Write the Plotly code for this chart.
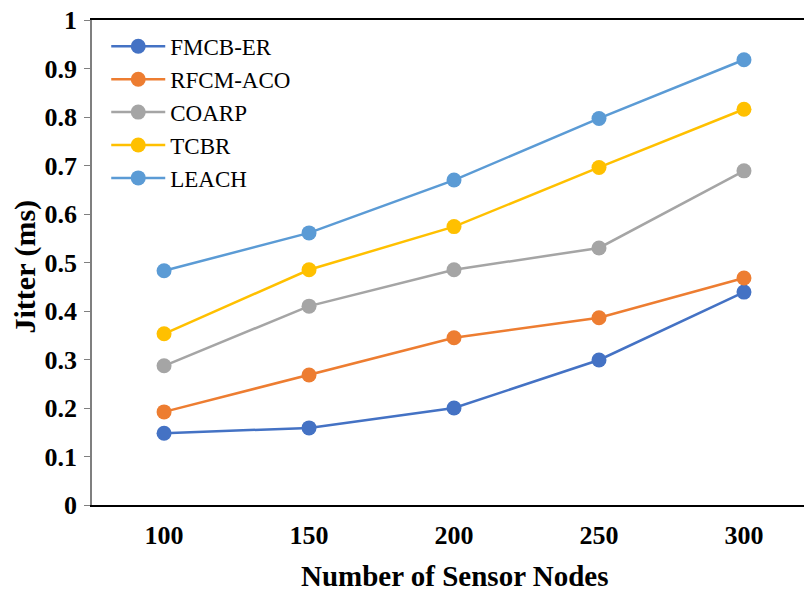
import plotly.graph_objects as go

nodes = ["100", "150", "200", "250", "300"]
fmcb_er = [0.148, 0.159, 0.200, 0.299, 0.439]
rfcm_aco = [0.192, 0.268, 0.345, 0.386, 0.468]
coarp = [0.287, 0.410, 0.485, 0.530, 0.689]
tcbr = [0.353, 0.485, 0.574, 0.696, 0.816]
leach = [0.483, 0.561, 0.670, 0.797, 0.918]
y_ticks = [0, 0.1, 0.2, 0.3, 0.4, 0.5, 0.6, 0.7, 0.8, 0.9, 1]
y_tick_labels = ["0", "0.1", "0.2", "0.3", "0.4", "0.5", "0.6", "0.7", "0.8", "0.9", "1"]

series = [
    ("FMCB-ER", fmcb_er, "#4472C4"),
    ("RFCM-ACO", rfcm_aco, "#ED7D31"),
    ("COARP", coarp, "#A5A5A5"),
    ("TCBR", tcbr, "#FFC000"),
    ("LEACH", leach, "#5B9BD5"),
]

fig = go.Figure()
for name, vals, color in series:
    fig.add_trace(go.Scatter(
        x=nodes, y=vals, name=name, mode="lines+markers",
        line=dict(color=color, width=2.5),
        marker=dict(color=color, size=15),
    ))

serif = "Liberation Serif, Times New Roman, serif"
fig.update_layout(
    width=804, height=591,
    margin=dict(l=92, r=0, t=20, b=86),
    paper_bgcolor="white", plot_bgcolor="white",
    font=dict(family=serif, color="black"),
    showlegend=True,
    legend=dict(
        x=0.02, y=0.99, xanchor="left", yanchor="top",
        font=dict(family=serif, size=23, color="black"),
        bgcolor="rgba(0,0,0,0)", itemwidth=54,
    ),
    xaxis=dict(
        type="category", range=[-0.497, 4.414], automargin=False,
        showline=True, linecolor="black", linewidth=2, mirror=True,
        showgrid=False, ticks="",
        tickfont=dict(family=serif, size=26, color="black", weight="bold"),
        ticklabelstandoff=6, ticklabeloverflow="allow",
    ),
    yaxis=dict(
        range=[0, 1], tickvals=y_ticks, ticktext=y_tick_labels, automargin=False,
        showline=True, linecolor="#7f7f7f", linewidth=1.5,
        showgrid=False, zeroline=False,
        ticks="outside", ticklen=6, tickcolor="#7f7f7f",
        tickfont=dict(family=serif, size=26, color="black", weight="bold"),
        ticklabelstandoff=2, ticklabeloverflow="allow",
    ),
    annotations=[
        dict(text="<b>Jitter (ms)</b>", xref="paper", yref="paper", x=0, y=0.5,
             xanchor="center", yanchor="middle",
             xshift=-68, yshift=-4, textangle=-90, showarrow=False,
             font=dict(family=serif, size=30, color="black")),
        dict(text="<b>Number of Sensor Nodes</b>", xref="x domain", yref="paper",
             x=(454 - 92) / 712, y=0, xanchor="center", yanchor="middle",
             yshift=-71, showarrow=False,
             font=dict(family=serif, size=29, color="black")),
    ],
)

fig.write_html("out.html", config={"displayModeBar": False},
               post_script="document.body.style.margin='0';")
